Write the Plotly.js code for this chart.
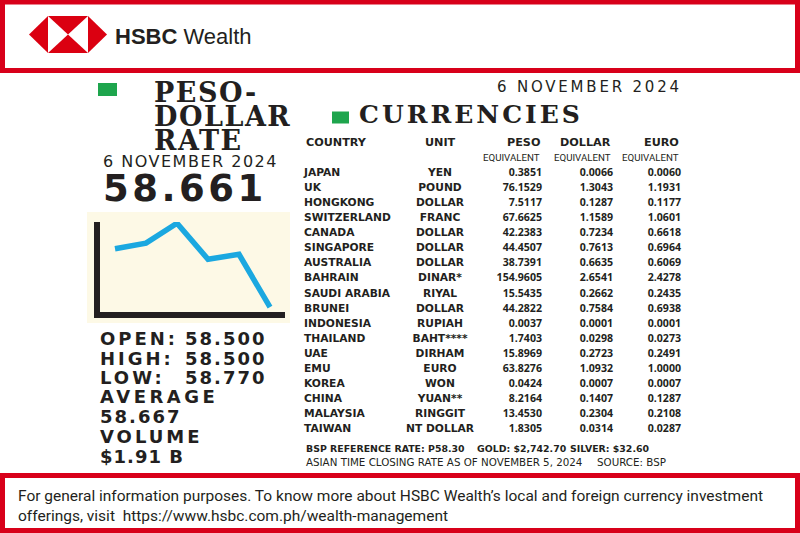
<!DOCTYPE html>
<html><head><meta charset="utf-8">
<script src="https://cdn.plot.ly/plotly-3.0.1.min.js"></script>
<style>html,body{margin:0;padding:0;background:#fff}#chart{width:800px;height:533px}</style>
</head><body><div id="chart"></div>
<script>
// ---------------- DATA ----------------
const sessions = [1, 2, 3, 4, 5, 6];
const pesoDollarRate = [58.42, 58.51, 58.83, 58.25, 58.33, 57.48];
const rateDate = "6 NOVEMBER 2024";
const closingRate = "58.661";
const statLabels = ["OPEN:", "HIGH:", "LOW:"];
const statValues = ["58.500", "58.500", "58.770"];
const averageRate = "58.667";
const volume = "$1.91 B";

const countries = ["JAPAN","UK","HONGKONG","SWITZERLAND","CANADA","SINGAPORE","AUSTRALIA","BAHRAIN","SAUDI ARABIA","BRUNEI","INDONESIA","THAILAND","UAE","EMU","KOREA","CHINA","MALAYSIA","TAIWAN"];
const units = ["YEN","POUND","DOLLAR","FRANC","DOLLAR","DOLLAR","DOLLAR","DINAR*","RIYAL","DOLLAR","RUPIAH","BAHT****","DIRHAM","EURO","WON","YUAN**","RINGGIT","NT DOLLAR"];
const pesoEquivalent = [0.3851,76.1529,7.5117,67.6625,42.2383,44.4507,38.7391,154.9605,15.5435,44.2822,0.0037,1.7403,15.8969,63.8276,0.0424,8.2164,13.4530,1.8305];
const dollarEquivalent = [0.0066,1.3043,0.1287,1.1589,0.7234,0.7613,0.6635,2.6541,0.2662,0.7584,0.0001,0.0298,0.2723,1.0932,0.0007,0.1407,0.2304,0.0314];
const euroEquivalent = [0.0060,1.1931,0.1177,1.0601,0.6618,0.6964,0.6069,2.4278,0.2435,0.6938,0.0001,0.0273,0.2491,1.0000,0.0007,0.1287,0.2108,0.0287];
const columnHeaders = ["COUNTRY","UNIT","PESO","DOLLAR","EURO"];
const subHeader = "EQUIVALENT";
const titleLines = ["PESO-","DOLLAR","RATE"];
const tableTitle = "CURRENCIES";
const bspItems = ["BSP REFERENCE RATE: P58.30","GOLD: $2,742.70","SILVER: $32.60"];
const noteItems = ["ASIAN TIME CLOSING RATE AS OF NOVEMBER 5, 2024","SOURCE: BSP"];
const brand = ["HSBC","Wealth"];
const footerLines = ["For general information purposes. To know more about HSBC Wealth\u2019s local and foreign currency investment","offerings, visit  https://www.hsbc.com.ph/wealth-management"];

// ---------------- LAYOUT HELPERS ----------------
const W = 800, H = 533;
const px = x => x / W;
const py = y => 1 - y / H;
const RED = '#d8001a', GREEN = '#1ea54d', INK = '#231f20', BLUE = '#1ba8e0';
const sp = (t, style) => `<span style="${style}">${t}</span>`;
const ls = (t, s) => sp(t, `letter-spacing:${s}px`);
function ann(text, x, y, o) {
  return {
    text: text, x: px(x), y: py(y), xref: 'paper', yref: 'paper',
    xanchor: o.xa || 'left', yanchor: 'middle', align: o.align || 'left', showarrow: false,
    font: { family: o.family || 'DejaVu Sans', size: o.size || 11, color: o.color || INK, weight: o.weight || 'normal' }
  };
}
function poly(pts) {
  return 'M' + pts.map(p => px(p[0]).toFixed(5) + ',' + py(p[1]).toFixed(5)).join('L') + 'Z';
}
const COL = { country: 304, unit: 440, peso: 542, dollar: 613, euro: 681 };
const fmt = v => v.toFixed(4);

// ---------------- TRACES ----------------
const traces = [];
traces.push({
  type: 'scatter', mode: 'lines', x: sessions, y: pesoDollarRate,
  line: { color: BLUE, width: 5.5, shape: 'linear' },
  xaxis: 'x', yaxis: 'y', cliponaxis: false, hoverinfo: 'skip', showlegend: false
});
const numFont = { family: 'Open Sans', size: 10.6, color: INK, weight: 700 };
const nameFont = { family: 'DejaVu Sans', size: 10.7, color: INK, weight: 700 };
function col(xPos, texts, pos, font) {
  return {
    type: 'scatter', mode: 'text', x: countries.map(() => xPos), y: countries,
    text: texts, textposition: pos, textfont: font,
    xaxis: 'x3', yaxis: 'y3', cliponaxis: false, hoverinfo: 'skip', showlegend: false
  };
}
traces.push(col(COL.country, countries, 'middle right', nameFont));
traces.push(col(COL.unit, units, 'middle center', nameFont));
traces.push(col(COL.peso, pesoEquivalent.map(fmt), 'middle left', numFont));
traces.push(col(COL.dollar, dollarEquivalent.map(fmt), 'middle left', numFont));
traces.push(col(COL.euro, euroEquivalent.map(fmt), 'middle left', numFont));

// ---------------- ANNOTATIONS ----------------
const A = [];
A.push(ann(`<b>${brand[0]}</b> ${brand[1]}`, 113, 37, { family: 'Liberation Sans', size: 22 }));
// three-line serif title: base size sets the tight leading, spans set the glyph size
A.push(ann(titleLines.map(t => sp(t, 'font-size:27px;letter-spacing:1.5px')).join('<br>'), 152, 116.5,
  { family: 'DejaVu Serif', size: 18.3, weight: 700 }));
// date + closing rate
A.push(ann(sp(rateDate, 'font-size:16px;letter-spacing:1.5px') + '<br>' +
  sp(closingRate, 'font-size:37px;font-weight:bold;letter-spacing:3.5px'), 101, 181,
  { size: 26.5 }));
const statFont = { size: 18, weight: 700 };
const statY = [338, 358, 377];
statLabels.forEach((l, i) => {
  A.push(ann(ls(l, 3), 98, statY[i], statFont));
  A.push(ann(ls(statValues[i], 2), 183, statY[i], statFont));
});
A.push(ann(ls('AVERAGE', 3.5), 98, 396, statFont));
A.push(ann(ls(averageRate, 2), 98, 416, statFont));
A.push(ann(ls('VOLUME', 3), 98, 436, statFont));
A.push(ann(ls(volume, 1), 98, 456, statFont));

A.push(ann(ls(rateDate, 2.8), 684, 86.5, { size: 15, xa: 'right' }));
A.push(ann(ls(tableTitle, 3), 357, 115, { family: 'DejaVu Serif', size: 25, weight: 700 }));

const hdrFont = { size: 11.2, weight: 700 };
A.push(ann(columnHeaders[0], COL.country, 142.7, hdrFont));
A.push(ann(columnHeaders[1], COL.unit, 142.7, Object.assign({ xa: 'center' }, hdrFont)));
A.push(ann(columnHeaders[2], COL.peso, 142.7, Object.assign({ xa: 'right' }, hdrFont)));
A.push(ann(columnHeaders[3], COL.dollar, 142.7, Object.assign({ xa: 'right' }, hdrFont)));
A.push(ann(columnHeaders[4], COL.euro, 142.7, Object.assign({ xa: 'right' }, hdrFont)));
const eqFont = { family: 'Roboto', size: 9.7, xa: 'right' };
[COL.peso, COL.dollar, COL.euro].forEach(x => A.push(ann(subHeader, x, 157.5, eqFont)));

const bspFont = { size: 9.4, weight: 700 };
A.push(ann(bspItems[0], 304, 448, bspFont));
A.push(ann(bspItems[1], 475, 448, bspFont));
A.push(ann(bspItems[2], 568, 448, bspFont));
const noteFont = { size: 10.3 };
A.push(ann(noteItems[0], 304, 462, noteFont));
A.push(ann(noteItems[1], 595, 462, noteFont));

const footFont = { family: 'Roboto', size: 15.5 };
A.push(ann(footerLines[0], 16, 496, footFont));
A.push(ann(footerLines[1], 16, 516, footFont));

// ---------------- SHAPES ----------------
const S = [];
S.push({ type: 'rect', xref: 'paper', yref: 'paper', x0: px(87), x1: px(290), y0: py(323), y1: py(212), fillcolor: '#fdf9e6', line: { width: 0 }, layer: 'below' });
S.push({ type: 'rect', xref: 'paper', yref: 'paper', x0: px(2.5), x1: px(797.5), y0: py(70.5), y1: py(2), line: { color: RED, width: 5 } });
S.push({ type: 'rect', xref: 'paper', yref: 'paper', x0: px(2.5), x1: px(797.5), y0: py(530.5), y1: py(475.5), line: { color: RED, width: 5 } });
const logoRed = '#db0011';
[
  [[29, 34.5], [48, 16], [48, 53]],
  [[48, 16], [88, 16], [68, 34.5]],
  [[48, 53], [88, 53], [68, 34.5]],
  [[107, 34.5], [88, 16], [88, 53]]
].forEach(p => S.push({ type: 'path', xref: 'paper', yref: 'paper', path: poly(p), fillcolor: logoRed, line: { width: 0 } }));
S.push({ type: 'rect', xref: 'paper', yref: 'paper', x0: px(98), x1: px(117), y0: py(96), y1: py(83), fillcolor: GREEN, line: { width: 0 } });
S.push({ type: 'rect', xref: 'paper', yref: 'paper', x0: px(332), x1: px(349), y0: py(123.5), y1: py(111.5), fillcolor: GREEN, line: { width: 0 } });

// ---------------- LAYOUT ----------------
const hidden = { visible: false, fixedrange: true, showgrid: false, zeroline: false };
const layout = {
  width: W, height: H, margin: { l: 0, r: 0, t: 0, b: 0 },
  paper_bgcolor: '#ffffff', plot_bgcolor: 'rgba(0,0,0,0)', showlegend: false,
  xaxis: { domain: [px(100), px(285)], range: [0.516, 6.484], showline: true, linewidth: 6, linecolor: INK,
           showgrid: false, zeroline: false, showticklabels: false, ticks: '', fixedrange: true },
  yaxis: { domain: [py(312), py(222)], range: [57.4, 58.85], showline: true, linewidth: 6, linecolor: INK,
           showgrid: false, zeroline: false, showticklabels: false, ticks: '', fixedrange: true },
  xaxis3: Object.assign({ domain: [0, 1], range: [0, W], anchor: 'y3' }, hidden),
  yaxis3: Object.assign({ domain: [py(437), py(165.8)], type: 'category', categoryarray: countries,
           categoryorder: 'array', range: [17.5, -0.5], anchor: 'x3' }, hidden),
  annotations: A, shapes: S
};
Plotly.newPlot('chart', traces, layout, { staticPlot: true, displayModeBar: false });
</script></body></html>
